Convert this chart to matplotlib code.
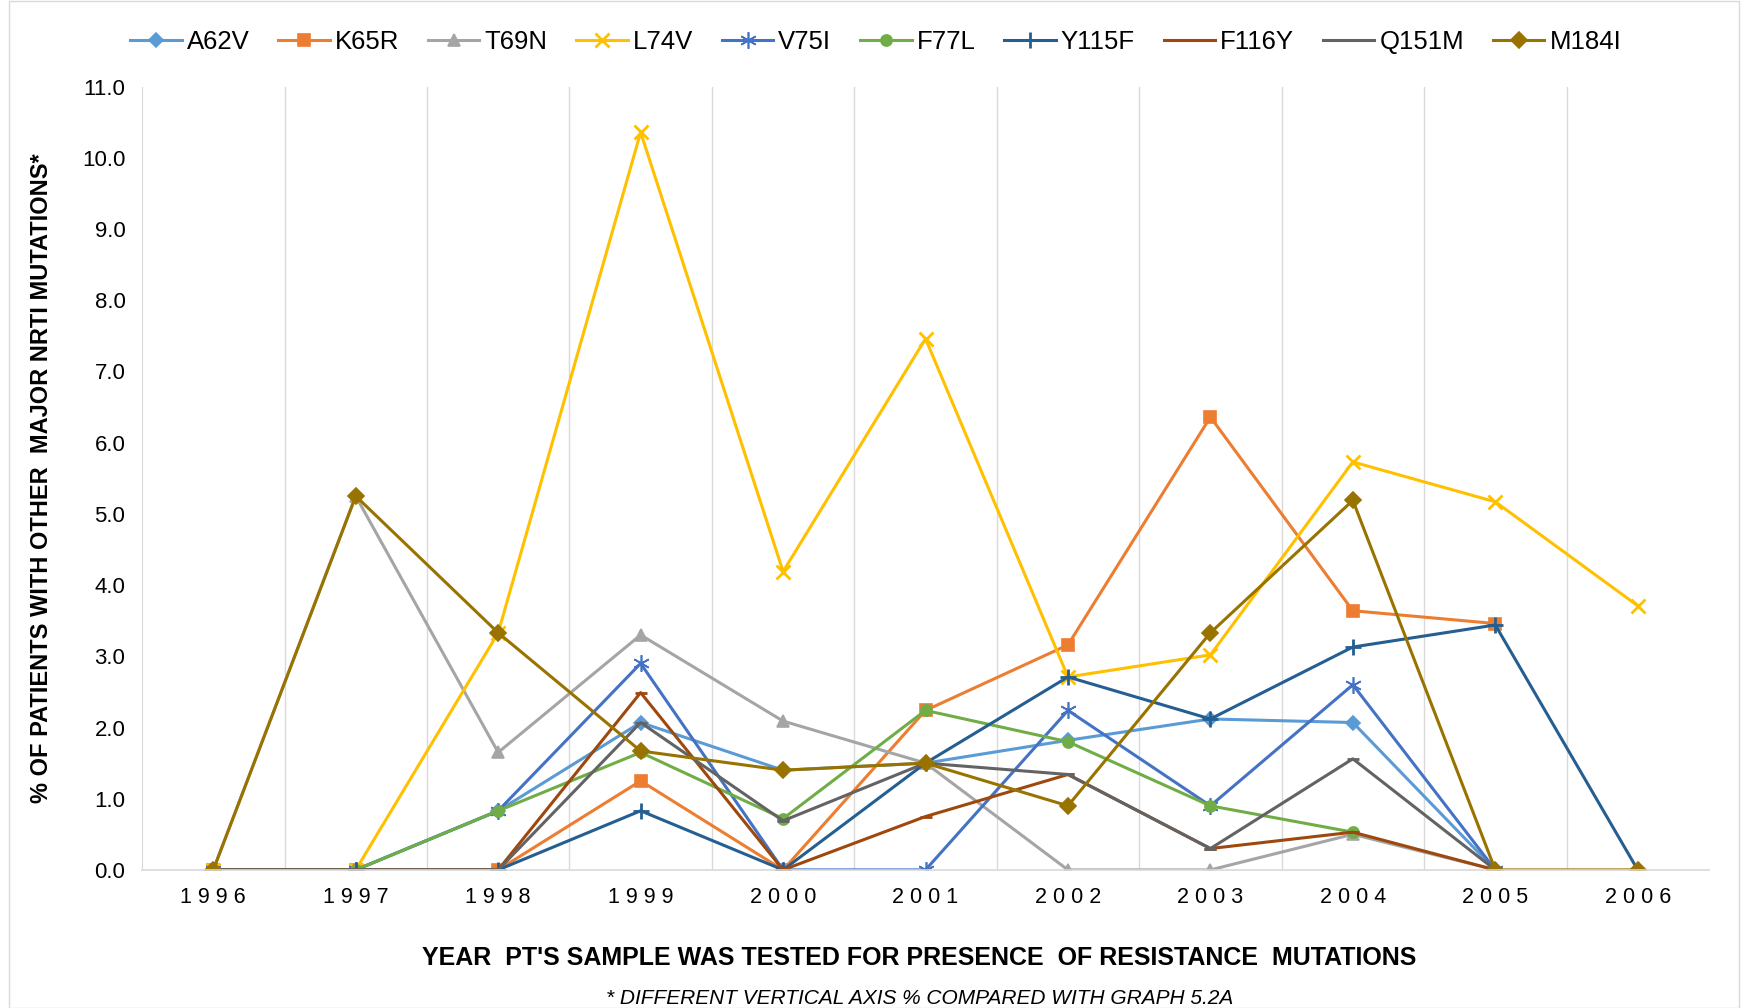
import matplotlib.pyplot as plt
from matplotlib.patches import Rectangle

years = [1996, 1997, 1998, 1999, 2000, 2001, 2002, 2003, 2004, 2005, 2006]
year_labels = [' '.join(str(y)) for y in years]

A62V = [0, 0, 0.83, 2.07, 1.40, 1.50, 1.82, 2.12, 2.07, 0, None]
K65R = [0, 0, 0, 1.25, 0, 2.24, 3.16, 6.36, 3.64, 3.46, None]
T69N = [0, 5.25, 1.65, 3.30, 2.09, 1.50, 0, 0, 0.50, 0, None]
L74V = [0, 0, 3.33, 10.36, 4.19, 7.46, 2.71, 3.02, 5.73, 5.17, 3.71]
V75I = [0, 0, 0.83, 2.90, 0, 0, 2.24, 0.90, 2.60, 0, None]
F77L = [0, 0, 0.83, 1.65, 0.72, 2.24, 1.80, 0.90, 0.53, None, None]
Y115F = [0, 0, 0, 0.83, 0, 1.50, 2.71, 2.12, 3.13, 3.44, 0]
F116Y = [0, 0, 0, 2.49, 0, 0.75, 1.34, 0.30, 0.53, 0, None]
Q151M = [0, 0, 0, 2.07, 0.69, 1.50, 1.34, 0.30, 1.56, 0, None]
M184I = [0, 5.25, 3.33, 1.67, 1.40, 1.50, 0.90, 3.33, 5.19, 0, 0]

series = [
    ('A62V', A62V, '#5B9BD5', 'D', 7),
    ('K65R', K65R, '#ED7D31', 's', 8),
    ('T69N', T69N, '#A5A5A5', '^', 9),
    ('L74V', L74V, '#FFC000', 'x', 10),
    ('V75I', V75I, '#4472C4', (6, 2, 0), 12),
    ('F77L', F77L, '#70AD47', 'o', 8),
    ('Y115F', Y115F, '#255E91', '+', 12),
    ('F116Y', F116Y, '#9E480E', '_', 8),
    ('Q151M', Q151M, '#636363', '_', 8),
    ('M184I', M184I, '#997300', 'D', 8),
]

plt.rcParams['font.family'] = ['Liberation Sans', 'DejaVu Sans']

fig = plt.figure(figsize=(17.41, 10.08), dpi=100)
ax = fig.add_axes([0.0816, 0.137, 0.900, 0.777])

for name, vals, color, marker, ms in series:
    xs = [i for i, v in enumerate(vals) if v is not None]
    ys = [v for v in vals if v is not None]
    mew = 2 if marker in ('_', 'x', '+') else 1.2
    ax.plot(xs, ys, color=color, lw=2.2, marker=marker, markersize=ms,
            markeredgewidth=mew, markeredgecolor=color, label=name)

ax.set_xlim(-0.5, len(years) - 0.5)
ax.set_ylim(0, 11)
ax.set_yticks([i for i in range(12)])
ax.set_yticklabels(['%.1f' % i for i in range(12)], fontsize=16)
ax.set_xticks(range(len(years)))
ax.set_xticklabels(year_labels, fontsize=15.5)
ax.set_xticks([i + 0.5 for i in range(len(years) - 1)], minor=True)
ax.grid(axis='x', which='minor', color='#D9D9D9', lw=1)
ax.tick_params(axis='y', which='both', length=0, pad=12)
ax.tick_params(axis='x', which='both', length=0, pad=12)

for side in ['top', 'right']:
    ax.spines[side].set_visible(False)
ax.spines['left'].set_color('#D9D9D9')
ax.spines['bottom'].set_color('#D9D9D9')
ax.spines['bottom'].set_linewidth(1.2)

ax.set_ylabel("% OF PATIENTS WITH OTHER  MAJOR NRTI MUTATIONS*",
              fontsize=17, fontweight='bold')
ax.yaxis.set_label_coords(-0.057, 0.5)
ax.set_xlabel("YEAR  PT'S SAMPLE WAS TESTED FOR PRESENCE  OF RESISTANCE  MUTATIONS",
              fontsize=18, fontweight='bold')
ax.xaxis.set_label_coords(0.496, -0.097)

fig.text(0.528, 0.009, '* DIFFERENT VERTICAL AXIS % COMPARED WITH GRAPH 5.2A',
         fontsize=15, style='italic', ha='center', va='center')

fig.legend(loc='center', bbox_to_anchor=(0.503, 0.958), ncol=10,
           frameon=False, fontsize=18.5, handlelength=2.0, columnspacing=1.12,
           handletextpad=0.2)

fig.patches.append(Rectangle((0.005, 0.0), 0.994, 0.999, transform=fig.transFigure,
                             fill=False, edgecolor='#D9D9D9', lw=1))

fig.savefig('out.png', dpi=100)
